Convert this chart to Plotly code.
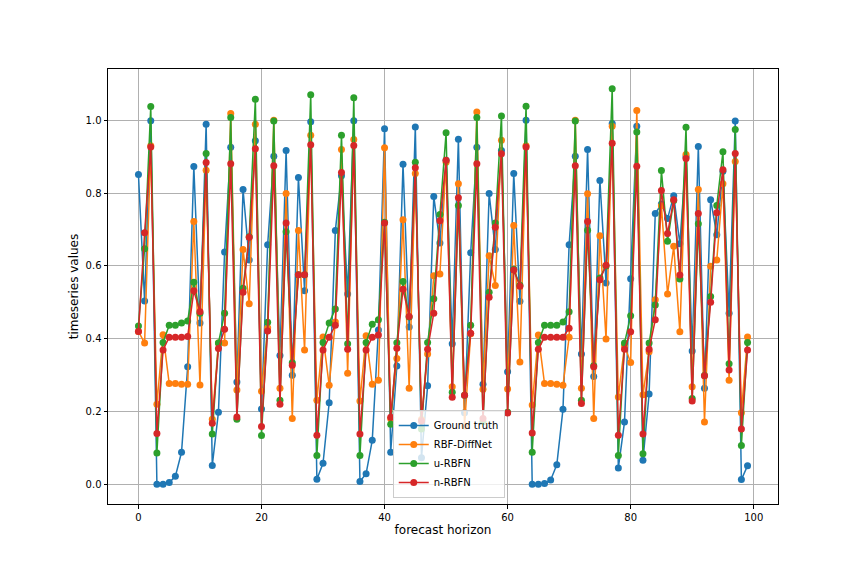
import plotly.graph_objects as go

# forecast horizon steps
horizon = list(range(100))

ground_truth = [0.851, 0.504, 0.999, 0.0, 0.0, 0.005, 0.022, 0.088, 0.323, 0.873,
                0.443, 0.989, 0.052, 0.198, 0.638, 0.926, 0.281, 0.81, 0.616, 0.944,
                0.207, 0.658, 0.901, 0.354, 0.917, 0.30, 0.843, 0.532, 0.996, 0.014,
                0.058, 0.224, 0.697, 0.848, 0.523, 0.999, 0.008, 0.029, 0.121, 0.424,
                0.977, 0.088, 0.325, 0.879, 0.432, 0.982, 0.073, 0.271, 0.791, 0.663,
                0.89, 0.386, 0.948, 0.197, 0.636, 0.926, 0.275, 0.799, 0.645, 0.917,
                0.309, 0.854, 0.503, 1.0, 0.0, 0.0, 0.002, 0.012, 0.054, 0.206,
                0.658, 0.901, 0.358, 0.92, 0.296, 0.835, 0.553, 0.991, 0.045, 0.171,
                0.565, 0.984, 0.066, 0.248, 0.744, 0.77, 0.730, 0.793, 0.661, 0.90,
                0.366, 0.928, 0.264, 0.782, 0.686, 0.86, 0.47, 0.998, 0.013, 0.051]

rbf_diffnet = [0.42, 0.388, 0.93, 0.22, 0.411, 0.277, 0.277, 0.275, 0.275, 0.722,
               0.273, 0.863, 0.179, 0.388, 0.388, 1.019, 0.259, 0.645, 0.496, 0.989,
               0.256, 0.43, 1.0, 0.264, 0.799, 0.181, 0.697, 0.369, 0.959, 0.231,
               0.405, 0.272, 0.446, 0.92, 0.305, 0.947, 0.229, 0.408, 0.275, 0.286,
               0.925, 0.18, 0.346, 0.727, 0.264, 0.854, 0.178, 0.358, 0.573, 0.578,
               0.885, 0.268, 0.826, 0.16, 0.414, 1.023, 0.261, 0.628, 0.546, 0.945,
               0.262, 0.711, 0.336, 0.93, 0.218, 0.41, 0.277, 0.277, 0.275, 0.272,
               0.404, 1.0, 0.264, 0.798, 0.181, 0.683, 0.399, 0.984, 0.24, 0.381,
               0.335, 1.027, 0.246, 0.364, 0.507, 0.765, 0.523, 0.654, 0.419, 0.906,
               0.268, 0.81, 0.171, 0.599, 0.616, 0.826, 0.286, 0.887, 0.197, 0.405]

u_rbfn = [0.435, 0.647, 1.038, 0.086, 0.39, 0.437, 0.437, 0.443, 0.449, 0.555,
          0.47, 0.909, 0.138, 0.388, 0.47, 1.008, 0.179, 0.539, 0.68, 1.058,
          0.134, 0.445, 0.998, 0.231, 0.694, 0.334, 0.576, 0.576, 1.07, 0.079,
          0.39, 0.443, 0.482, 0.959, 0.386, 1.062, 0.079, 0.39, 0.44, 0.452,
          0.72, 0.165, 0.389, 0.557, 0.46, 0.885, 0.152, 0.39, 0.51, 0.741,
          0.966, 0.253, 0.766, 0.245, 0.437, 1.008, 0.172, 0.528, 0.718, 1.012,
          0.198, 0.591, 0.547, 1.039, 0.088, 0.39, 0.437, 0.437, 0.437, 0.446,
          0.474, 0.998, 0.231, 0.698, 0.326, 0.567, 0.6, 1.087, 0.079, 0.388,
          0.463, 0.968, 0.084, 0.388, 0.493, 0.862, 0.668, 0.78, 0.564, 0.981,
          0.236, 0.716, 0.299, 0.516, 0.766, 0.914, 0.331, 0.975, 0.107, 0.39]

n_rbfn = [0.42, 0.691, 0.927, 0.14, 0.369, 0.404, 0.404, 0.404, 0.406, 0.532,
          0.474, 0.884, 0.168, 0.373, 0.426, 0.881, 0.185, 0.528, 0.679, 0.922,
          0.159, 0.421, 0.875, 0.22, 0.718, 0.327, 0.576, 0.576, 0.933, 0.135,
          0.369, 0.404, 0.437, 0.857, 0.371, 0.931, 0.138, 0.369, 0.404, 0.41,
          0.718, 0.184, 0.374, 0.536, 0.461, 0.87, 0.174, 0.371, 0.47, 0.724,
          0.89, 0.239, 0.787, 0.245, 0.415, 0.881, 0.181, 0.514, 0.706, 0.908,
          0.196, 0.589, 0.544, 0.927, 0.141, 0.371, 0.404, 0.404, 0.404, 0.404,
          0.429, 0.875, 0.222, 0.722, 0.323, 0.562, 0.602, 0.937, 0.135, 0.371,
          0.419, 0.874, 0.138, 0.371, 0.452, 0.807, 0.689, 0.782, 0.575, 0.895,
          0.229, 0.744, 0.298, 0.50, 0.746, 0.864, 0.314, 0.909, 0.152, 0.369]

x_ticks = [0, 20, 40, 60, 80, 100]
y_ticks = [0.0, 0.2, 0.4, 0.6, 0.8, 1.0]

series = [
    ("Ground truth", ground_truth, "#1f77b4"),
    ("RBF-DiffNet", rbf_diffnet, "#ff7f0e"),
    ("u-RBFN", u_rbfn, "#2ca02c"),
    ("n-RBFN", n_rbfn, "#d62728"),
]

fig = go.Figure()
for name, vals, color in series:
    fig.add_trace(go.Scatter(
        x=horizon, y=vals, name=name, mode="lines+markers",
        line=dict(color=color, width=1.5),
        marker=dict(color=color, size=7),
    ))

axis_style = dict(
    showline=True, linecolor="black", linewidth=1, mirror=True,
    ticks="outside", ticklen=3.5, tickcolor="black",
    showgrid=True, gridcolor="#b0b0b0", gridwidth=0.8,
    zeroline=False, tickfont=dict(size=10, color="black"),
)

# page body has an 8px offset, so margins are shifted to keep the plot box in place
fig.update_layout(
    width=864, height=576,
    paper_bgcolor="white", plot_bgcolor="white",
    font=dict(family="DejaVu Sans", size=10, color="black"),
    margin=dict(l=100, r=94, t=61, b=80),
    showlegend=True,
    legend=dict(
        x=0.425, y=0.014, xanchor="left", yanchor="bottom",
        bgcolor="rgba(255,255,255,0.8)", bordercolor="#cccccc", borderwidth=1,
        font=dict(size=10), tracegroupgap=0,
    ),
)
fig.update_xaxes(range=[-4.95, 103.95], tickvals=x_ticks,
                 title=dict(text="forecast horizon", standoff=4), **axis_style)
fig.update_yaxes(range=[-0.054, 1.141], tickvals=y_ticks, tickformat=".1f",
                 title=dict(text="timeseries values", standoff=4), **axis_style)

fig.write_html("out.html")
